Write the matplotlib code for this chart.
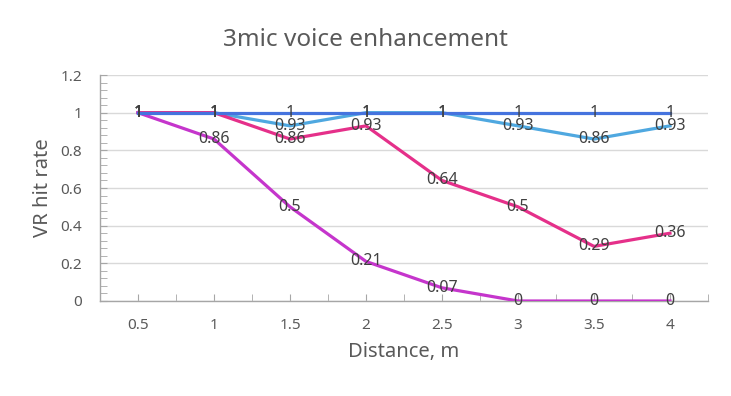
import numpy as np
import matplotlib
matplotlib.use("Agg")
import matplotlib.pyplot as plt
from matplotlib.ticker import FixedLocator

plt.rcParams['font.family'] = ['Noto Sans', 'DejaVu Sans']

# data
distances = ["0.5", "1", "1.5", "2", "2.5", "3", "3.5", "4"]
series_light = [1, 1, 0.93, 1, 1, 0.93, 0.86, 0.93]
series_pink = [1, 1, 0.86, 0.93, 0.64, 0.5, 0.29, 0.36]
series_purple = [1, 0.86, 0.5, 0.21, 0.07, 0, 0, 0]
series_dark = [1, 1, 1, 1, 1, 1, 1, 1]
y_ticks = [0, 0.2, 0.4, 0.6, 0.8, 1, 1.2]

colors = {
    "light": "#4FA8E0",
    "pink": "#E5308A",
    "purple": "#C535CC",
    "dark": "#4573DE",
}

fig = plt.figure(figsize=(7.31, 3.96), dpi=100)
ax = fig.add_axes([0.1368, 0.2399, 0.8317, 0.5707])

x = np.arange(len(distances))
all_series = [
    (series_light, colors["light"]),
    (series_pink, colors["pink"]),
    (series_purple, colors["purple"]),
    (series_dark, colors["dark"]),
]
for vals, cl in all_series:
    ax.plot(x, vals, color=cl, linewidth=2.3, solid_joinstyle='round', zorder=3)

for vals, cl in all_series:
    for xi, v in zip(x, vals):
        ax.text(xi, v, f"{v:g}", ha='center', va='center', fontsize=11.5,
                color="#404040", zorder=5)

ax.set_xlim(-0.5, len(distances) - 0.5)
ax.set_ylim(0, 1.2)
ax.xaxis.set_major_locator(FixedLocator(x))
ax.xaxis.set_minor_locator(FixedLocator(np.arange(-0.5, len(distances), 1.0)))
ax.set_xticklabels(distances)
ax.set_yticks(y_ticks)
ax.set_yticklabels([f"{t:g}" for t in y_ticks])
ax.yaxis.set_minor_locator(FixedLocator(np.arange(0, 1.2001, 0.04)))

ax.grid(axis='y', which='major', color="#D9D9D9", linewidth=1)
ax.set_axisbelow(True)
for side in ["top", "right"]:
    ax.spines[side].set_visible(False)
for side in ["left", "bottom"]:
    ax.spines[side].set_color("#A6A6A6")
    ax.spines[side].set_linewidth(1)

ax.tick_params(axis='both', which='both', direction='in', length=5,
               color="#A6A6A6", labelcolor="#595959", labelsize=11)
ax.tick_params(axis='x', which='both', pad=12)
ax.tick_params(axis='y', which='both', pad=13)

ax.set_xlabel("Distance, m", fontsize=14.5, color="#595959", labelpad=7)
ax.set_ylabel("VR hit rate", fontsize=14.5, color="#595959", labelpad=5)
fig.text(0.5, 0.9, "3mic voice enhancement", ha='center', va='center',
         fontsize=17.5, color="#595959")

fig.savefig("out.png", dpi=100)
